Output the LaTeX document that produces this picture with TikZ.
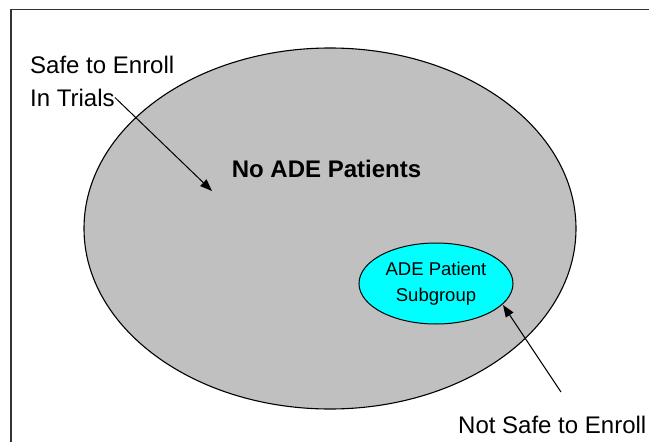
\documentclass[tikz,border=0pt]{standalone}
\usepackage{fontspec}
\setmainfont{Liberation Sans}
\usetikzlibrary{shapes.geometric,arrows.meta}
\definecolor{silverfill}{HTML}{C0C0C0}
\definecolor{cyanfill}{HTML}{00FFFF}
\begin{document}
\begin{tikzpicture}[x=1pt,y=-1pt,
  lbl/.style={inner sep=0pt, font=\fontsize{24}{33}\selectfont},
  arr/.style={line width=1pt, -{Triangle[length=12pt,width=9pt]}}]
\useasboundingbox (0,0) rectangle (649,442);
\draw[line width=1.3pt, black!80] (11,442) -- (11,9.5) -- (649,9.5);
\node[ellipse, draw, line width=1.1pt, fill=silverfill, minimum width=492pt, minimum height=361pt, inner sep=0pt] (all) at (330,228.5) {};
\node[ellipse, draw, line width=1pt, fill=cyanfill, minimum width=154pt, minimum height=81pt, inner sep=0pt, align=center, font=\fontsize{18.5}{26}\selectfont] (sub) at (436,283.5) {ADE Patient\\Subgroup};
\node[lbl, font=\bfseries\fontsize{24}{33}\selectfont, anchor=base] (noade) at (326.5,177) {No ADE Patients};
\node[lbl, anchor=base west] (safe1) at (30,73) {Safe to Enroll};
\node[lbl, anchor=base west] (safe2) at (30,106) {In Trials};
\node[lbl, anchor=base west] (notsafe) at (458,433) {Not Safe to Enroll};
\coordinate (safetip) at (212,191);
\coordinate (nstart) at (561,392);
\coordinate (ntip) at (503,305);
\draw[arr] (safe2.east) -- (safetip);
\draw[arr] (nstart) -- (ntip);
\end{tikzpicture}
\end{document}
